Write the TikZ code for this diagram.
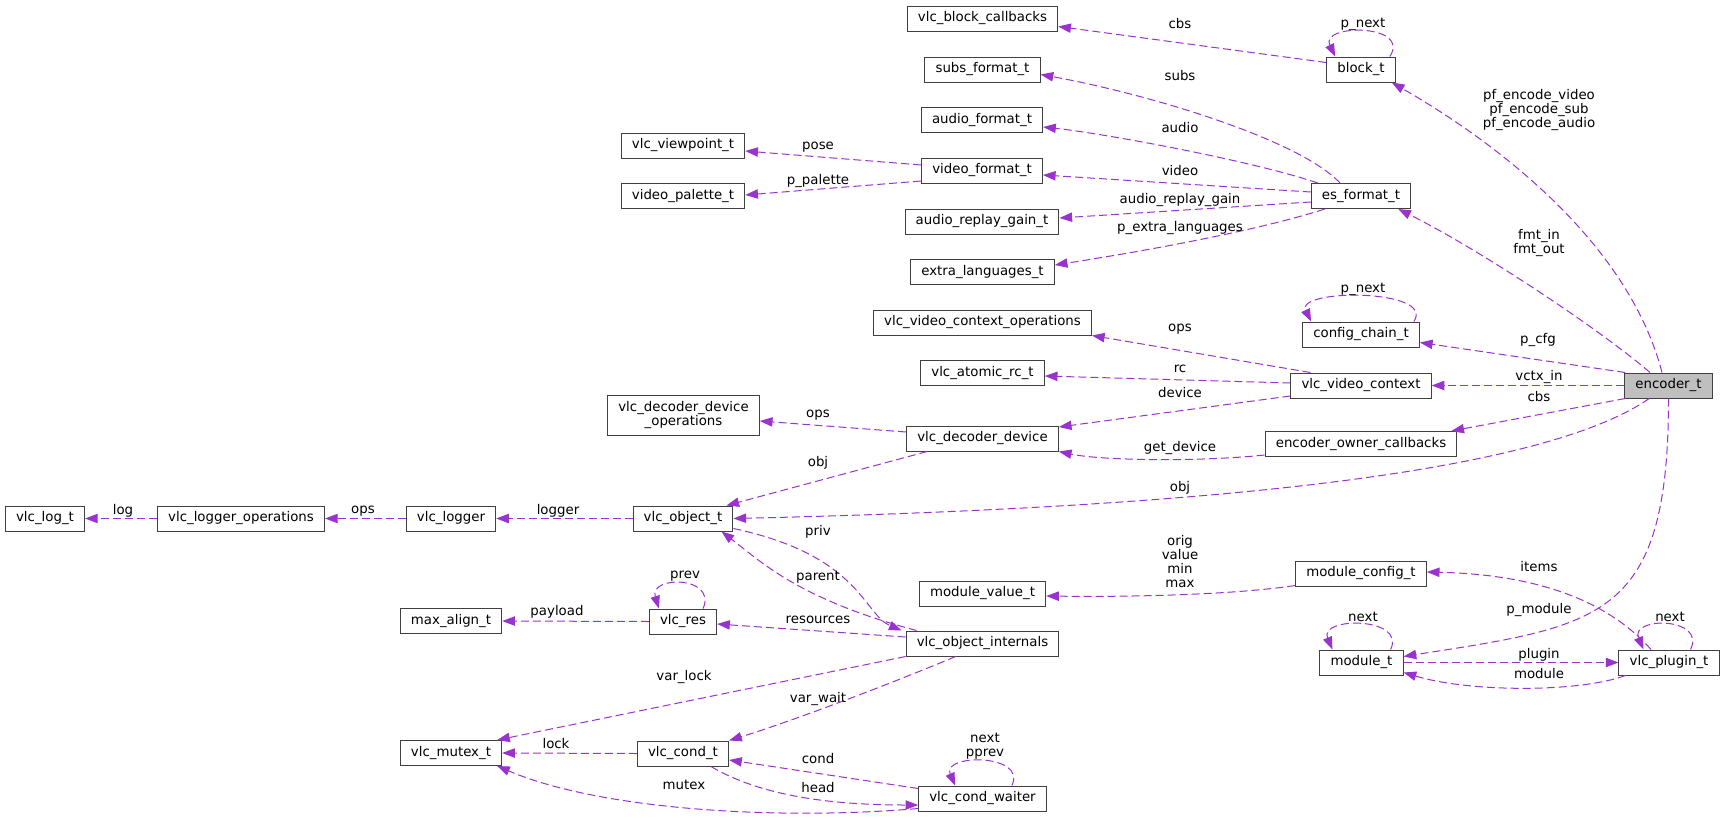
\documentclass[tikz,border=0pt]{standalone}
\usepackage{fontspec}
\setmainfont{DejaVu Sans}
\usepackage{tikz}
\usetikzlibrary{arrows.meta,calc,positioning}
\definecolor{edgecol}{HTML}{9A32CD}
\definecolor{boxcol}{HTML}{404040}
\definecolor{rootfill}{HTML}{BFBFBF}
\tikzstyle{cls}  =[rectangle, draw=boxcol, line width=0.75pt, fill=white,
                   minimum height=18.75pt, inner xsep=8pt, inner ysep=0pt,
                   text height=7.5pt, text depth=2.4pt]
\tikzstyle{root} =[cls, fill=rootfill]
\tikzstyle{edge} =[draw=edgecol, line width=0.75pt,
                   dash pattern=on 6pt off 3pt,
                   -{Triangle[length=9.5pt,width=7pt]}]
\tikzstyle{lbl}  =[inner sep=0pt, text=black]

\begin{document}
\begin{tikzpicture}[x=0.75pt, y=-0.75pt, font=\fontsize{10}{10.7}\selectfont]
\useasboundingbox (0,0) rectangle (1724,818);
\node[cls] (blkcb) at (982.5,18.5) {vlc\_block\_callbacks};
\node[cls] (subs)  at (982.5,69.5) {subs\_format\_t};
\node[cls] (afmt)  at (982,120) {audio\_format\_t};
\node[cls] (vp)    at (683,145.5) {vlc\_viewpoint\_t};
\node[cls] (vfmt)  at (982,170.5) {video\_format\_t};
\node[cls] (pal)   at (683,196) {video\_palette\_t};
\node[cls] (rg)    at (982,221.5) {audio\_replay\_gain\_t};
\node[cls] (xl)    at (982.5,272) {extra\_languages\_t};
\node[cls] (blk)   at (1361,69.5) {block\_t};
\node[cls] (es)    at (1361,196) {es\_format\_t};
\node[cls] (cfg)   at (1361,334.5) {config\_chain\_t};
\node[cls] (vcops) at (982.5,322.5) {vlc\_video\_context\_operations};
\node[cls] (rc)    at (982.5,373) {vlc\_atomic\_rc\_t};
\node[cls] (vctx)  at (1361,385.5) {vlc\_video\_context};
\node[root] (enc)  at (1668.5,385.5) {encoder\_t};
\node[cls, text height=, text depth=, align=center, minimum height=30pt]
      (ddops) at (683.5,415) {vlc\_decoder\_device\\\_operations};
\node[cls] (dd)    at (982.5,438.5) {vlc\_decoder\_device};
\node[cls] (eoc)   at (1361,444) {encoder\_owner\_callbacks};
\node[cls] (log)   at (45,518.5) {vlc\_log\_t};
\node[cls] (lops)  at (241,518.5) {vlc\_logger\_operations};
\node[cls] (lgr)   at (451,518.5) {vlc\_logger};
\node[cls] (obj)   at (683,518.5) {vlc\_object\_t};
\node[cls] (mcfg)  at (1361,573.5) {module\_config\_t};
\node[cls] (mval)  at (982.5,593.5) {module\_value\_t};
\node[cls] (maxa)  at (451,621) {max\_align\_t};
\node[cls] (res)   at (683,621.5) {vlc\_res};
\node[cls] (oint)  at (982.5,643.5) {vlc\_object\_internals};
\node[cls] (mod)   at (1361.5,662.5) {module\_t};
\node[cls] (plg)   at (1669,662.5) {vlc\_plugin\_t};
\node[cls] (mtx)   at (451,753) {vlc\_mutex\_t};
\node[cls] (cond)  at (683,753.5) {vlc\_cond\_t};
\node[cls] (cw)    at (982.5,798.5) {vlc\_cond\_waiter};

\draw[edge] ($(blk.west)+(0,-7)$) -- ($(blkcb.east)+(0,8)$);
\draw[edge] ($(blk.north east)+(-6,0)$) .. controls +(22,-33) and +(-16,-33) .. ($(blk.north west)+(9,0)$);
\draw[edge] ($(es.north)+(-21,0)$) .. controls +(-40,-43) and +(110,20) .. ($(subs.east)+(0,5)$);
\draw[edge] ($(es.north west)+(7,0)$) .. controls +(-68,-23) and +(57,6) .. ($(afmt.east)+(0,7)$);
\draw[edge] ($(es.west)+(0,-4)$) -- ($(vfmt.east)+(0,4.5)$);
\draw[edge] ($(es.west)+(0,6)$) -- ($(rg.east)+(0,-3.5)$);
\draw[edge] ($(es.south west)+(14,0)$) .. controls +(-65,21) and +(96,-15) .. ($(xl.east)+(0,-7)$);
\draw[edge] ($(vfmt.west)+(0,-5.5)$) -- ($(vp.east)+(0,5.5)$);
\draw[edge] ($(vfmt.west)+(0,10.5)$) -- ($(pal.east)+(0,-1)$);
\draw[edge] ($(enc.north)+(-6.5,0)$) .. controls +(-32,-123) and +(118,68) .. ($(blk.south east)+(-4,0)$);
\draw[edge] ($(enc.north)+(-18.5,0)$) .. controls +(-50,-43) and +(82,41) .. ($(es.south east)+(-13,0)$);
\draw[edge] ($(enc.north west)+(1,0)$) -- ($(cfg.east)+(0,8)$);
\draw[edge] (enc.west) -- (vctx.east);
\draw[edge] ($(enc.south west)+(1,0)$) -- ($(eoc.north east)+(-6,0)$);
\draw[edge] ($(enc.south west)+(25,0)$) .. controls +(-90,62) and +(567,-13) .. (obj.east);
\draw[edge] (enc.south) .. controls +(0,222) and +(197,-31) .. ($(mod.east)+(0,-6)$);
\draw[edge] ($(cfg.north east)+(-6,0)$) .. controls +(22,-33) and +(-16,-33) .. ($(cfg.north west)+(9,0)$);
\draw[edge] ($(vctx.north west)+(20,0)$) -- (vcops.south east);
\draw[edge] ($(vctx.west)+(0,-2.5)$) -- ($(rc.east)+(0,3)$);
\draw[edge] ($(vctx.west)+(0,10.5)$) -- ($(dd.east)+(0,-11.5)$);
\draw[edge] ($(eoc.west)+(0,11)$) .. controls +(-66,7) and +(42,9) .. (dd.south east);
\draw[edge] ($(dd.west)+(0,-6.5)$) -- ($(ddops.east)+(0,6)$);
\draw[edge] ($(dd.south west)+(21,0)$) -- ($(obj.north east)+(-7,0)$);
\draw[edge] (obj.west) -- (lgr.east);
\draw[edge] (lgr.west) -- (lops.east);
\draw[edge] (lops.west) -- (log.east);
\draw[edge] ($(obj.south east)+(0,-3)$) .. controls +(127,27) and +(-38,-16) .. ($(oint.north west)+(-4,0)$);
\draw[edge] ($(oint.north west)+(11,0)$) .. controls +(-118,-31) and +(38,29) .. ($(obj.south)+(38.5,0)$);
\draw[edge] ($(oint.west)+(0,-6.5)$) -- ($(res.east)+(0,2.5)$);
\draw[edge] (res.west) -- (maxa.east);
\draw[edge] ($(res.north east)+(-14,0)$) .. controls +(14,-33) and +(-10,-33) .. ($(res.north west)+(10,0)$);
\draw[edge] (oint.south west) -- ($(mtx.north east)+(-5,0)$);
\draw[edge] ($(oint.south west)+(50,0)$) .. controls +(-57,24) and +(68,-21) .. (cond.north east);
\draw[edge] (cond.west) -- (mtx.east);
\draw[edge] ($(cw.north west)+(0,3)$) -- ($(cond.east)+(0,6.5)$);
\draw[edge] ($(cond.south)+(28,0)$) .. controls +(49,29) and +(-89,0) .. ($(cw.west)+(0,6.5)$);
\draw[edge] ($(cw.south west)+(0,-3)$) .. controls +(-139,12) and +(103,44) .. ($(mtx.south east)+(-5,0)$);
\draw[edge] ($(cw.north east)+(-35,0)$) .. controls +(16,-32) and +(-14,-32) .. ($(cw.north west)+(37,0)$);
\draw[edge] ($(mcfg.south west)+(0,-1)$) .. controls +(-66,10) and +(74,1) .. ($(mval.east)+(0,2.5)$);
\draw[edge] ($(plg.north)+(-18,0)$) .. controls +(-31,-35) and +(134,3) .. ($(mcfg.east)+(0,-1.5)$);
\draw[edge] ($(plg.north east)+(-29,0)$) .. controls +(16,-33) and +(-14,-33) .. ($(plg.north west)+(25,0)$);
\draw[edge] ($(mod.north east)+(-13,0)$) .. controls +(16,-33) and +(-14,-33) .. ($(mod.north west)+(13,0)$);
\draw[edge] (mod.east) -- (plg.west);
\draw[edge] ($(plg.south west)+(7,0)$) .. controls +(-46,17) and +(67,20) .. ($(mod.east)+(0,10)$);

\node[lbl] (l-cbs)    at (1180,24) {cbs};
\node[lbl] (l-pnext)  at (1363,24) {p\_next};
\node[lbl] (l-subs)   at (1180,76) {subs};
\node[lbl] (l-audio)  at (1180,128) {audio};
\node[lbl] (l-video)  at (1180,171) {video};
\node[lbl] (l-rg)     at (1180,200) {audio\_replay\_gain};
\node[lbl] (l-xl)     at (1180,228) {p\_extra\_languages};
\node[lbl] (l-pose)   at (818,147) {pose};
\node[lbl] (l-pal)    at (818,181) {p\_palette};
\node[lbl, align=center] (l-pfenc) at (1539,110) {pf\_encode\_video\\pf\_encode\_sub\\pf\_encode\_audio};
\node[lbl, align=center] (l-fmt)   at (1539,243) {fmt\_in\\fmt\_out};
\node[lbl] (l-cfgnext) at (1363,289) {p\_next};
\node[lbl] (l-vops)   at (1180,329) {ops};
\node[lbl] (l-pcfg)   at (1538,340) {p\_cfg};
\node[lbl] (l-rc)     at (1180,369) {rc};
\node[lbl] (l-vctx)   at (1539,377) {vctx\_in};
\node[lbl] (l-dev)    at (1180,393) {device};
\node[lbl] (l-ecbs)   at (1539,397) {cbs};
\node[lbl] (l-dops)   at (818,415) {ops};
\node[lbl] (l-getdev) at (1180,448) {get\_device};
\node[lbl] (l-ddobj)  at (818,463) {obj};
\node[lbl] (l-eobj)   at (1180,488) {obj};
\node[lbl] (l-log)    at (123,511) {log};
\node[lbl] (l-lops)   at (363,511) {ops};
\node[lbl] (l-logger) at (558,511) {logger};
\node[lbl] (l-priv)   at (818,532) {priv};
\node[lbl, align=center] (l-orig) at (1180,561.5) {orig\\value\\min\\max};
\node[lbl] (l-items)  at (1539,567) {items};
\node[lbl] (l-prev)   at (685,576) {prev};
\node[lbl] (l-parent) at (818,577) {parent};
\node[lbl] (l-pmod)   at (1539,610) {p\_module};
\node[lbl] (l-payl)   at (557,612) {payload};
\node[lbl] (l-mnext)  at (1363,617) {next};
\node[lbl] (l-pnext2) at (1670,617) {next};
\node[lbl] (l-res)    at (818,620) {resources};
\node[lbl] (l-plugin) at (1539,655) {plugin};
\node[lbl] (l-module) at (1539,674) {module};
\node[lbl] (l-vlock)  at (684,677) {var\_lock};
\node[lbl] (l-vwait)  at (818,699) {var\_wait};
\node[lbl] (l-lock)   at (556,744) {lock};
\node[lbl, align=center] (l-npprev) at (985,746) {next\\pprev};
\node[lbl] (l-cond)   at (818,759) {cond};
\node[lbl] (l-mutex)  at (684,785) {mutex};
\node[lbl] (l-head)   at (818,788) {head};
\end{tikzpicture}
\end{document}
